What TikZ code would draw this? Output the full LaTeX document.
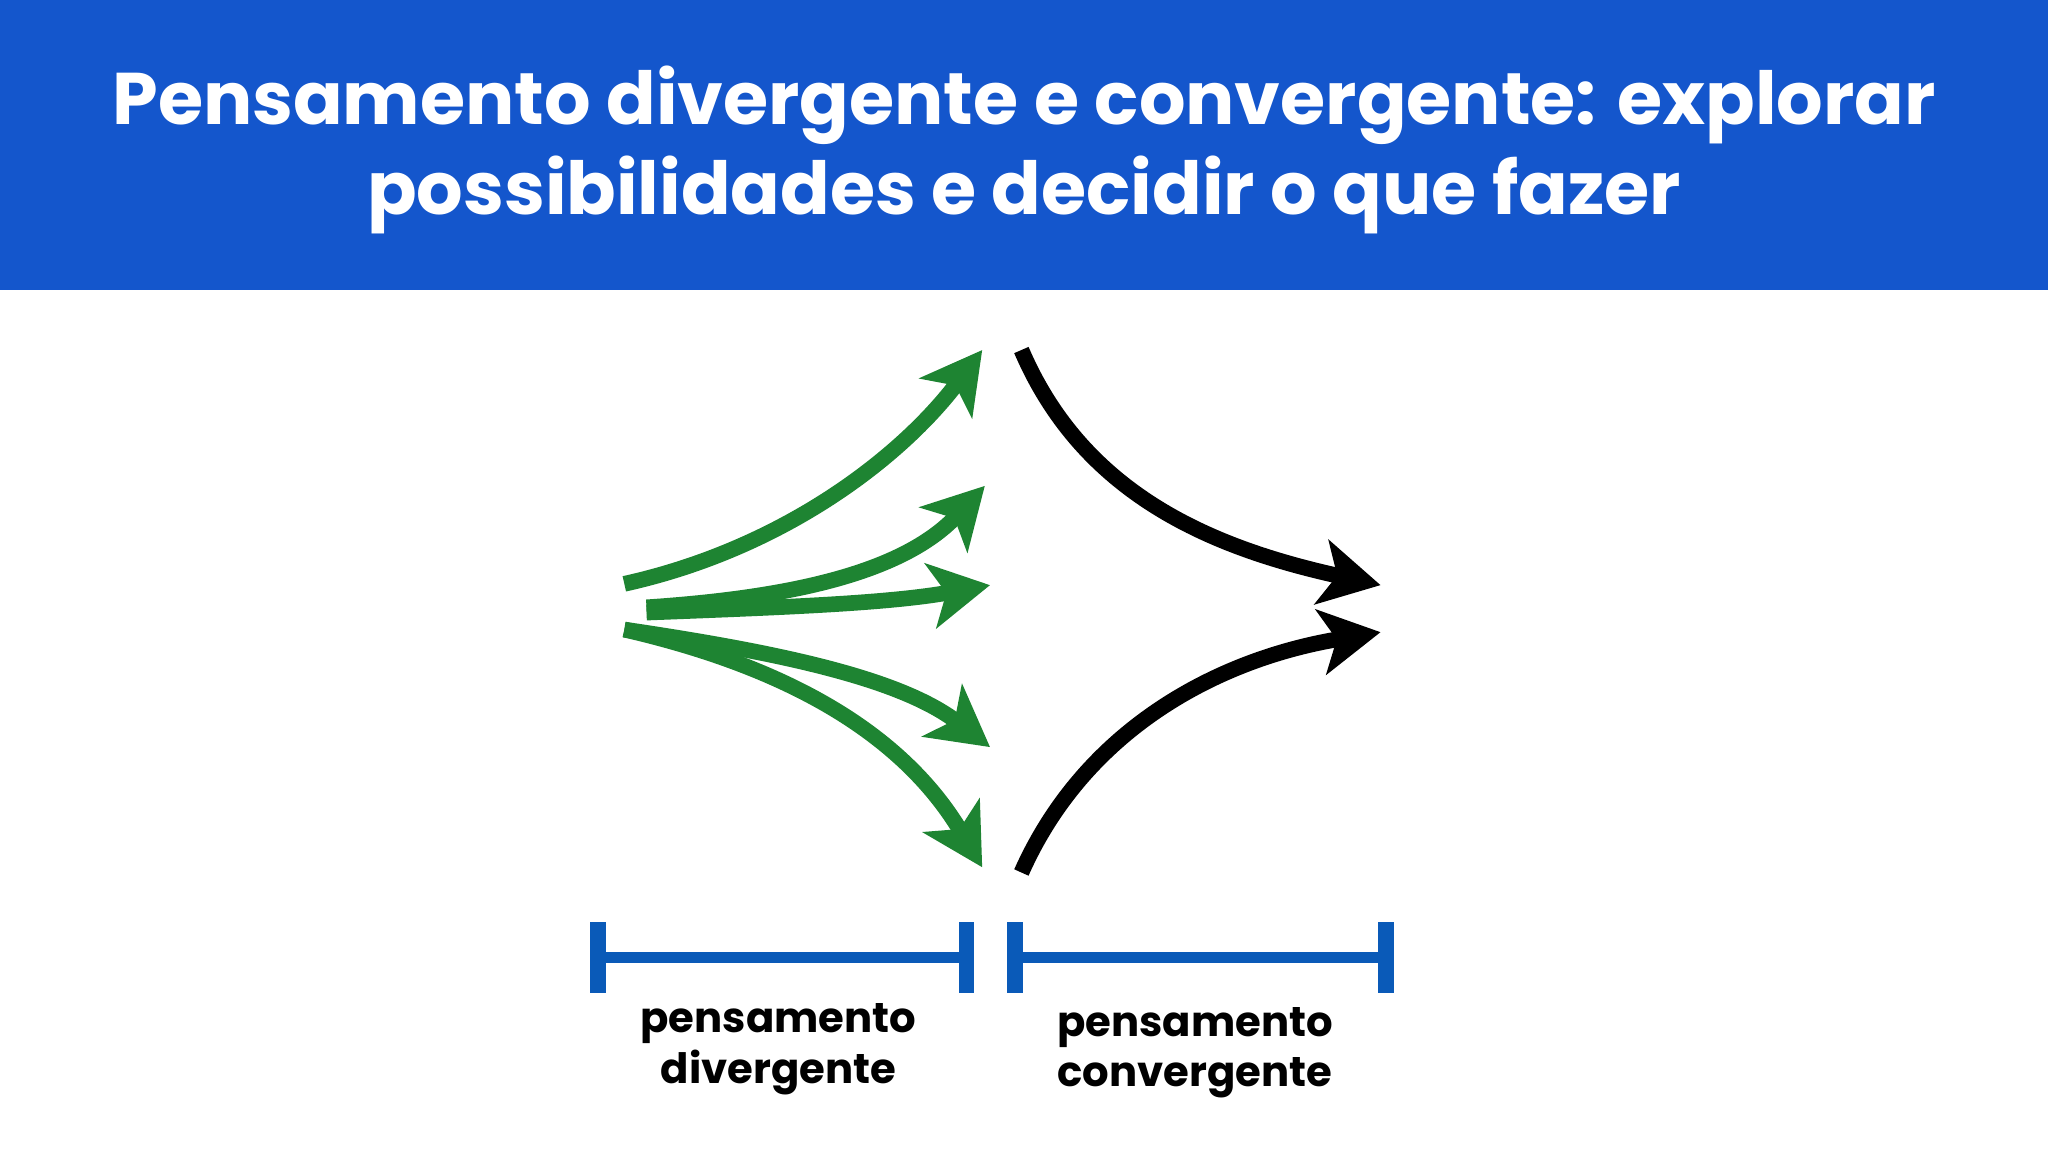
\documentclass[tikz,border=0pt]{standalone}
\usepackage{fontspec}
\setmainfont{Poppins}
\usetikzlibrary{arrows.meta}
\definecolor{titleblue}{HTML}{1456CC}
\definecolor{barblue}{HTML}{0A5AB8}
\definecolor{arrgreen}{HTML}{1E8432}
\tikzset{
  garrow/.style={draw=arrgreen,line width=12pt,-{Stealth[length=46pt,width=50pt,inset=12pt]}},
  karrow/.style={draw=black,line width=12pt,-{Stealth[length=46pt,width=50pt,inset=12pt]}},
  barline/.style={draw=barblue,line width=9pt},
  tick/.style={draw=barblue,line width=12pt},
  lbl/.style={font=\bfseries\fontsize{32}{39}\selectfont,align=center,text=black},
}
\begin{document}
\begin{tikzpicture}[x=1pt,y=-1pt]
\useasboundingbox (0,0) rectangle (1568,882);
\fill[white] (0,0) rectangle (1568,882);
\fill[titleblue] (0,0) rectangle (1568,222);
\node[font=\bfseries\fontsize{56}{69}\selectfont,text=white,align=center] (title) at (784,115)
  {Pensamento divergente e convergente: explorar\\possibilidades e decidir o que fazer};
% green arrows
\coordinate (g1s) at (478,447); \coordinate (g1e) at (752,268);
\coordinate (g2s) at (495,465); \coordinate (g2e) at (754,372);
\coordinate (g3s) at (495,469); \coordinate (g3e) at (758,448);
\coordinate (g4s) at (478,482); \coordinate (g4e) at (758,572);
\coordinate (g5s) at (478,482); \coordinate (g5e) at (752,664);
\draw[garrow] (g1s) .. controls (600,420) and (690,350) .. (g1e);
\draw[garrow] (g2s) .. controls (600,458) and (690,440) .. (g2e);
\draw[garrow] (g3s) .. controls (600,465) and (680,462) .. (g3e);
\draw[garrow] (g4s) .. controls (600,500) and (690,520) .. (g4e);
\draw[garrow] (g5s) .. controls (600,510) and (690,560) .. (g5e);
% black arrows
\coordinate (k1s) at (782,268); \coordinate (k1e) at (1057,448);
\coordinate (k2s) at (782,668); \coordinate (k2e) at (1057,484);
\draw[karrow] (k1s) .. controls (830,380) and (930,420) .. (k1e);
\draw[karrow] (k2s) .. controls (830,560) and (930,505) .. (k2e);
% bars
\coordinate (b1l) at (458,733); \coordinate (b1r) at (740,733);
\coordinate (b2l) at (777,733); \coordinate (b2r) at (1061,733);
\draw[barline] (b1l) -- (b1r);
\draw[tick] ([yshift=-27]b1l) -- ([yshift=27]b1l);
\draw[tick] ([yshift=-27]b1r) -- ([yshift=27]b1r);
\draw[barline] (b2l) -- (b2r);
\draw[tick] ([yshift=-27]b2l) -- ([yshift=27]b2l);
\draw[tick] ([yshift=-27]b2r) -- ([yshift=27]b2r);
\node[lbl] (l1) at (596,803) {pensamento\\divergente};
\node[lbl] (l2) at (915,806) {pensamento\\convergente};
\end{tikzpicture}
\end{document}
